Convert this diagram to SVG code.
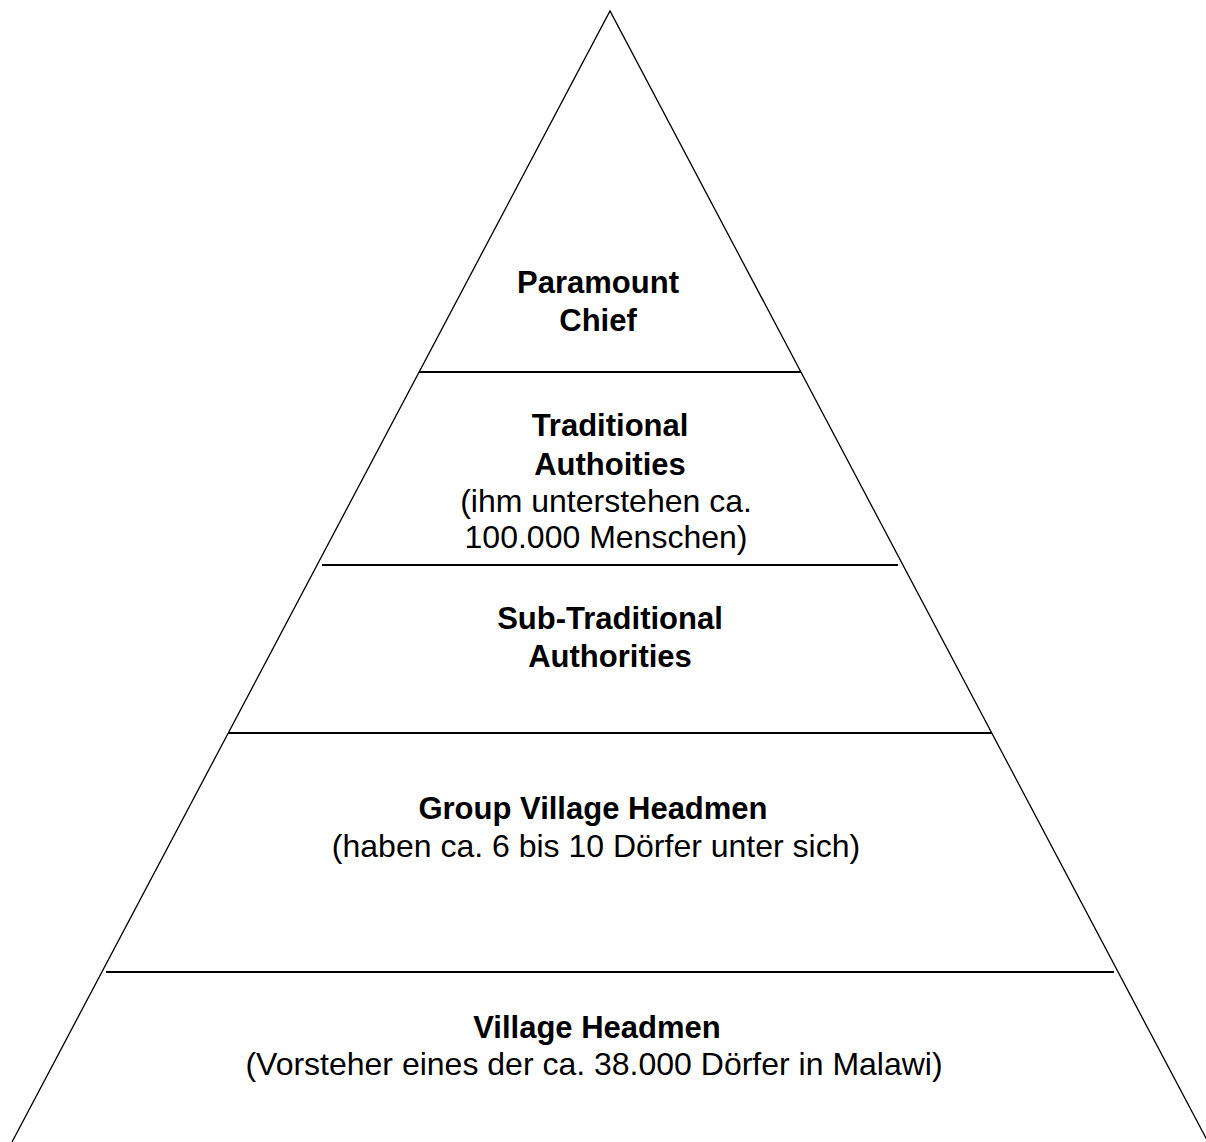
<svg xmlns="http://www.w3.org/2000/svg" width="1206" height="1142" viewBox="0 0 1206 1142">
<style>
.edge{stroke:#000;stroke-width:1.3;fill:none}
.sep{stroke:#000;stroke-width:2;fill:none}
text{font-family:"Liberation Sans",Arial,sans-serif;font-size:32px;fill:#000;text-anchor:middle}
.b{font-weight:bold;font-size:31px}
</style>
<rect width="1206" height="1142" fill="#fff"/>
<g id="connectors">
<polyline class="edge" points="12,1142 610,11 1208,1142"/>
<line class="sep" x1="419" y1="372" x2="801" y2="372"/>
<line class="sep" x1="322" y1="565" x2="898" y2="565"/>
<line class="sep" x1="228" y1="733" x2="992" y2="733"/>
<line class="sep" x1="106" y1="972" x2="1114" y2="972"/>
</g>
<g id="paramount">
<text class="b" x="598" y="293">Paramount</text>
<text class="b" x="598" y="331">Chief</text>
</g>
<g id="traditional">
<text class="b" x="610" y="436">Traditional</text>
<text class="b" x="610" y="475">Authoities</text>
<text x="606" y="512">(ihm unterstehen ca.</text>
<text x="606" y="548">100.000 Menschen)</text>
</g>
<g id="subtraditional">
<text class="b" x="610" y="629">Sub-Traditional</text>
<text class="b" x="610" y="667">Authorities</text>
</g>
<g id="group">
<text class="b" x="593" y="819">Group Village Headmen</text>
<text x="596" y="857">(haben ca. 6 bis 10 Dörfer unter sich)</text>
</g>
<g id="village">
<text class="b" x="597" y="1038">Village Headmen</text>
<text x="594" y="1075">(Vorsteher eines der ca. 38.000 Dörfer in Malawi)</text>
</g>
</svg>
